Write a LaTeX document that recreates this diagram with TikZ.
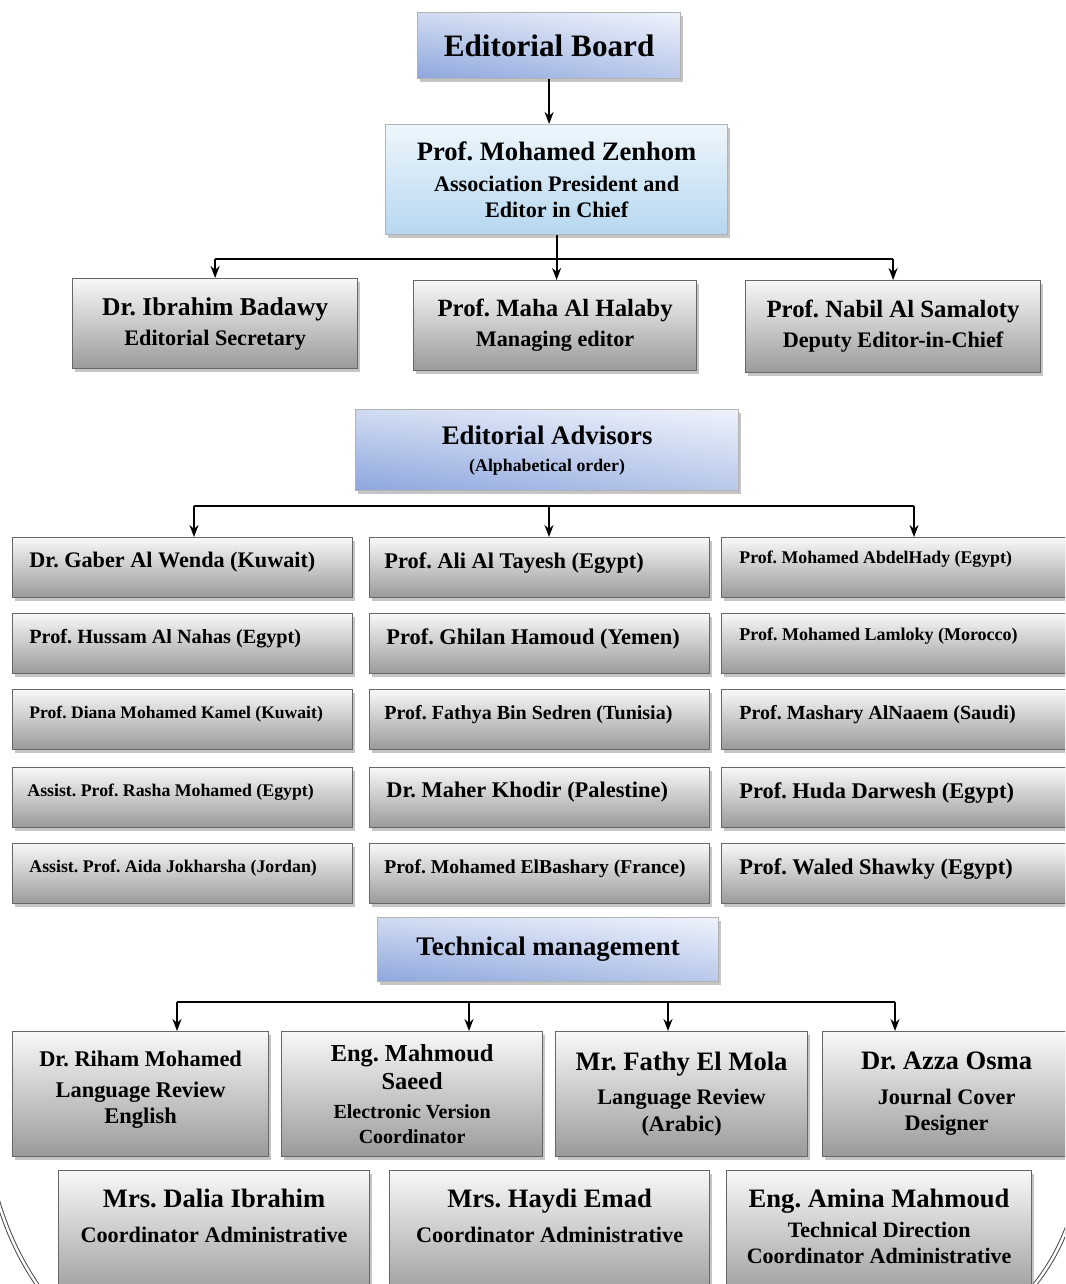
\documentclass[tikz,border=0pt]{standalone}
\usepackage{fontspec}
\setmainfont{Liberation Serif}
\usetikzlibrary{arrows.meta,shadows,shadings}
\frenchspacing

\definecolor{hdlight}{HTML}{EEF2FB}
\definecolor{hdblue}{HTML}{8DA6DD}
\definecolor{zenlight}{HTML}{EEF6FC}
\definecolor{zenblue}{HTML}{B6D7F0}
\definecolor{boxtop}{HTML}{F8F8F8}
\definecolor{boxbot}{HTML}{9A9A9A}

\newcommand{\fs}[2]{\fontsize{#1}{#2}\selectfont\bfseries}

\tikzset{
  box/.style={rectangle, draw=black!60, line width=0.6pt, inner sep=0pt,
    anchor=north west, align=center,
    drop shadow={shadow xshift=1pt, shadow yshift=-1.5pt, fill=black!45}},
  greybox/.style={box, top color=boxtop, bottom color=boxbot},
  bluebox/.style={box, draw=black!30, upper left=hdlight!70!hdblue,
    upper right=hdlight, lower left=hdblue, lower right=hdblue!55!hdlight},
  zenbox/.style={box, draw=black!30, top color=zenlight, bottom color=zenblue},
  txt/.style={inner sep=0pt, align=center},
  advtxt/.style={inner sep=0pt, anchor=west},
  bus/.style={line width=1.1pt},
  arr/.style={line width=0.9pt, -{Stealth[length=6pt,width=4.5pt]}},
  frame/.style={draw=black!70, line width=0.5pt, double=white, double distance=1.2pt}
}

\begin{document}
\begin{tikzpicture}[x=0.5pt,y=-0.5pt]
\useasboundingbox (0,0) rectangle (1065,1284);
\clip (0,0) rectangle (1065,1284);

% page frame corners
\draw[frame] (-8,1180) .. controls (5,1230) and (20,1262) .. (48,1300);
\draw[frame] (1075,1205) .. controls (1062,1245) and (1050,1268) .. (1022,1300);

% board
\node[bluebox, minimum width=131.5pt, minimum height=33pt, font=\fs{15.6}{18}] (eb) at (417,12) {Editorial Board};
\node[zenbox, minimum width=171pt, minimum height=55pt, font=\fs{11.1}{13}] (zen) at (385,124)
  {{\fs{13.3}{15}Prof. Mohamed Zenhom}\\[2.5pt] Association President and\\ Editor in Chief};
\draw[arr] (eb.south) -- (eb.south |- zen.north);

\node[greybox, minimum width=142.5pt, minimum height=45pt, font=\fs{11.1}{13}] (bad) at (72,278)
  {{\fs{12.8}{15}Dr. Ibrahim Badawy}\\[2pt] Editorial Secretary};
\node[greybox, minimum width=141.5pt, minimum height=45pt, font=\fs{11.1}{13}] (hal) at (413,280)
  {{\fs{12.4}{15}Prof. Maha Al Halaby}\\[2pt] Managing editor};
\node[greybox, minimum width=147.5pt, minimum height=46pt, font=\fs{11.1}{13}] (sam) at (745,280)
  {{\fs{12.4}{15}Prof. Nabil Al Samaloty}\\[2pt] Deputy Editor-in-Chief};

\draw[bus] (zen.south) -- ++(0,24) coordinate (b1);
\draw[bus] (bad.north |- b1) -- (sam.north |- b1);
\draw[arr] (bad.north |- b1) -- (bad.north);
\draw[arr] (b1) -- (b1 |- hal.north);
\draw[arr] (sam.north |- b1) -- (sam.north);

% advisors
\node[bluebox, minimum width=191.5pt, minimum height=40.5pt, font=\fs{8.9}{10.5}] (adv) at (355,409)
  {{\fs{13.4}{15}Editorial Advisors}\\[3pt] (Alphabetical order)};

\coordinate (b2l) at (194,506);
\coordinate (b2m) at (549,506);
\coordinate (b2r) at (914,506);

\node[greybox, minimum width=170pt, minimum height=30pt] (g11) at (12,537) {};
\node[greybox, minimum width=170pt, minimum height=30pt] (g21) at (12,613) {};
\node[greybox, minimum width=170pt, minimum height=30pt] (g31) at (12,689) {};
\node[greybox, minimum width=170pt, minimum height=30pt] (g41) at (12,767) {};
\node[greybox, minimum width=170pt, minimum height=30pt] (g51) at (12,843) {};
\node[greybox, minimum width=170pt, minimum height=30pt] (g12) at (369,537) {};
\node[greybox, minimum width=170pt, minimum height=30pt] (g22) at (369,613) {};
\node[greybox, minimum width=170pt, minimum height=30pt] (g32) at (369,689) {};
\node[greybox, minimum width=170pt, minimum height=30pt] (g42) at (369,767) {};
\node[greybox, minimum width=170pt, minimum height=30pt] (g52) at (369,843) {};
\node[greybox, minimum width=174.5pt, minimum height=30pt] (g13) at (721,537) {};
\node[greybox, minimum width=174.5pt, minimum height=30pt] (g23) at (721,613) {};
\node[greybox, minimum width=174.5pt, minimum height=30pt] (g33) at (721,689) {};
\node[greybox, minimum width=174.5pt, minimum height=30pt] (g43) at (721,767) {};
\node[greybox, minimum width=174.5pt, minimum height=30pt] (g53) at (721,843) {};

\node[advtxt, font=\fs{11.1}{13}] (g11t) at ([xshift=8.5pt,yshift=2.5pt]g11.west) {Dr. Gaber Al Wenda (Kuwait)};
\node[advtxt, font=\fs{10.1}{12}] (g21t) at ([xshift=8.5pt,yshift=2.5pt]g21.west) {Prof. Hussam Al Nahas (Egypt)};
\node[advtxt, font=\fs{8.8}{10}] (g31t) at ([xshift=8.5pt,yshift=2.5pt]g31.west) {Prof. Diana Mohamed Kamel (Kuwait)};
\node[advtxt, font=\fs{8.9}{10}] (g41t) at ([xshift=7.5pt,yshift=2.5pt]g41.west) {Assist. Prof. Rasha Mohamed (Egypt)};
\node[advtxt, font=\fs{8.9}{10}] (g51t) at ([xshift=8.5pt,yshift=2.5pt]g51.west) {Assist. Prof. Aida Jokharsha (Jordan)};
\node[advtxt, font=\fs{11.2}{13}] (g12t) at ([xshift=7.5pt,yshift=2.5pt]g12.west) {Prof. Ali Al Tayesh (Egypt)};
\node[advtxt, font=\fs{11.2}{13}] (g22t) at ([xshift=8.5pt,yshift=2.5pt]g22.west) {Prof. Ghilan Hamoud (Yemen)};
\node[advtxt, font=\fs{10}{12}] (g32t) at ([xshift=7.5pt,yshift=2.5pt]g32.west) {Prof. Fathya Bin Sedren (Tunisia)};
\node[advtxt, font=\fs{11.2}{13}] (g42t) at ([xshift=8.5pt,yshift=2.5pt]g42.west) {Dr. Maher Khodir (Palestine)};
\node[advtxt, font=\fs{9.8}{12}] (g52t) at ([xshift=7.5pt,yshift=2.5pt]g52.west) {Prof. Mohamed ElBashary (France)};
\node[advtxt, font=\fs{8.9}{10}] (g13t) at ([xshift=9pt,yshift=4pt]g13.west) {Prof. Mohamed AbdelHady (Egypt)};
\node[advtxt, font=\fs{9}{10}] (g23t) at ([xshift=9pt,yshift=4pt]g23.west) {Prof. Mohamed Lamloky (Morocco)};
\node[advtxt, font=\fs{10}{12}] (g33t) at ([xshift=9pt,yshift=2.5pt]g33.west) {Prof. Mashary AlNaaem (Saudi)};
\node[advtxt, font=\fs{11.2}{13}] (g43t) at ([xshift=9pt,yshift=2.5pt]g43.west) {Prof. Huda Darwesh (Egypt)};
\node[advtxt, font=\fs{11.2}{13}] (g53t) at ([xshift=9pt,yshift=2.5pt]g53.west) {Prof. Waled Shawky (Egypt)};

\draw[bus] (b2l) -- (b2r);
\draw[arr] (b2l) -- (b2l |- g11.north);
\draw[arr] (b2m) -- (b2m |- g12.north);
\draw[arr] (b2r) -- (b2r |- g13.north);

% technical management
\node[bluebox, minimum width=170.5pt, minimum height=32pt, font=\fs{13.4}{15}] (tm) at (377,917) {Technical management};

\coordinate (t1) at (177,1002);
\coordinate (t2) at (469,1002);
\coordinate (t3) at (668,1002);
\coordinate (t4) at (895,1002);

\node[greybox, minimum width=128pt, minimum height=62.5pt, font=\fs{11.2}{13}] (r1) at (12,1031)
  {Dr. Riham Mohamed\\[2.5pt] Language Review\\ English\\[-6pt]};
\node[greybox, minimum width=130.5pt, minimum height=62.5pt, font=\fs{10}{12.5}] (r2) at (281,1031)
  {{\fs{12.2}{14}Eng. Mahmoud}\\[1.5pt] {\fs{12.2}{14}Saeed}\\[2pt] Electronic Version\\ Coordinator};
\node[greybox, minimum width=126pt, minimum height=62.5pt, font=\fs{11.1}{13.5}] (r3) at (555,1031)
  {{\fs{13.3}{15}Mr. Fathy El Mola}\\[3.5pt] Language Review\\ (Arabic)};
\node[greybox, minimum width=124pt, minimum height=62.5pt, font=\fs{11.1}{13}] (r4) at (822,1031)
  {{\fs{13.3}{15}Dr. Azza Osma}\\[4.5pt] Journal Cover\\ Designer};

\draw[bus] (t1) -- (t4);
\draw[arr] (t1) -- (t1 |- r1.north);
\draw[arr] (t2) -- (t2 |- r2.north);
\draw[arr] (t3) -- (t3 |- r3.north);
\draw[arr] (t4) -- (t4 |- r4.north);

\node[greybox, minimum width=155.5pt, minimum height=65pt] (d1) at (58,1170) {};
\node[greybox, minimum width=160pt, minimum height=65pt] (d2) at (389,1170) {};
\node[greybox, minimum width=152.5pt, minimum height=65pt] (d3) at (726,1170) {};
\node[txt, anchor=north, font=\fs{11.1}{13}] (d1t) at ([yshift=-9.5pt]d1.north)
  {{\fs{13.3}{15}Mrs. Dalia Ibrahim}\\[4.5pt] Coordinator Administrative};
\node[txt, anchor=north, font=\fs{11.1}{13}] (d2t) at ([yshift=-9.5pt]d2.north)
  {{\fs{13.3}{15}Mrs. Haydi Emad}\\[4.5pt] Coordinator Administrative};
\node[txt, anchor=north, font=\fs{11}{13}] (d3t) at ([yshift=-9.5pt]d3.north)
  {{\fs{13.3}{15}Eng. Amina Mahmoud}\\[2pt] Technical Direction\\ Coordinator Administrative};
\end{tikzpicture}
\end{document}
